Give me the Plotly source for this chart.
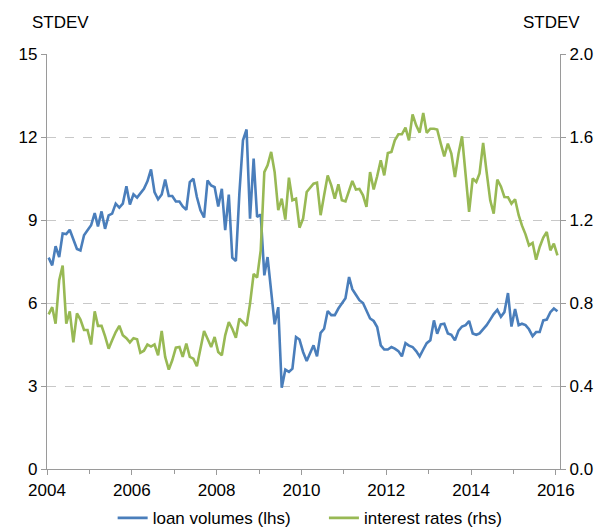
import plotly.graph_objects as go
import pandas as pd

dates = pd.date_range("2004-01-01", periods=145, freq="MS") + pd.Timedelta(days=14)

loan_volumes = [
    7.64, 7.36, 8.05, 7.66, 8.51, 8.49, 8.65, 8.27, 7.95, 7.9,
    8.45, 8.63, 8.81, 9.25, 8.77, 9.31, 8.68, 9.17, 9.23, 9.59,
    9.45, 9.59, 10.22, 9.56, 9.93, 9.81, 9.95, 10.13, 10.4, 10.83,
    10.01, 9.75, 9.92, 10.46, 9.87, 9.87, 9.67, 9.67, 9.49, 9.37,
    10.37, 10.49, 9.83, 9.35, 9.09, 10.43, 10.25, 10.19, 9.49, 10.13,
    8.63, 9.92, 7.64, 7.52, 9.95, 11.88, 12.27, 9.05, 11.22, 9.11,
    9.2, 7.0, 7.66, 6.34, 5.23, 5.85, 2.94, 3.59, 3.51, 3.63,
    4.77, 4.68, 4.23, 3.9, 4.17, 4.47, 4.07, 4.92, 5.07, 5.71,
    5.56, 5.56, 5.8, 6.0, 6.17, 6.94, 6.5, 6.3, 6.1, 6.0,
    5.75, 5.44, 5.35, 5.13, 4.47, 4.32, 4.32, 4.41, 4.35, 4.26,
    4.07, 4.55, 4.46, 4.41, 4.26, 4.07, 4.32, 4.55, 4.65, 5.37,
    4.89, 5.23, 5.25, 4.9, 4.85, 4.65, 5.0, 5.15, 5.2, 5.35,
    4.9, 4.85, 4.9, 5.05, 5.2, 5.4, 5.6, 5.75, 5.5, 5.67,
    6.36, 5.15, 5.78, 5.2, 5.25, 5.2, 5.05, 4.8, 4.95, 4.95,
    5.37, 5.4, 5.67, 5.8, 5.7,
]

interest_rates = [
    0.745, 0.78, 0.70, 0.91, 0.98, 0.70, 0.76, 0.61, 0.75, 0.72,
    0.67, 0.67, 0.60, 0.76, 0.69, 0.69, 0.64, 0.58, 0.62, 0.66,
    0.69, 0.645, 0.63, 0.61, 0.63, 0.625, 0.56, 0.57, 0.60, 0.59,
    0.60, 0.548, 0.665, 0.54, 0.479, 0.524, 0.585, 0.588, 0.54, 0.604,
    0.54, 0.532, 0.495, 0.588, 0.665, 0.628, 0.588, 0.636, 0.564, 0.548,
    0.644, 0.708, 0.676, 0.633, 0.725, 0.708, 0.69, 0.797, 0.94, 0.922,
    1.054, 1.431, 1.464, 1.528, 1.431, 1.247, 1.303, 1.202, 1.404, 1.295,
    1.303, 1.163, 1.207, 1.335, 1.356, 1.375, 1.38, 1.223, 1.319, 1.415,
    1.367, 1.303, 1.372, 1.295, 1.29, 1.343, 1.388, 1.347, 1.35, 1.319,
    1.263, 1.431, 1.347, 1.411, 1.488, 1.415, 1.523, 1.528, 1.584, 1.613,
    1.613, 1.645, 1.584, 1.709, 1.656, 1.621, 1.716, 1.62, 1.64, 1.64,
    1.636, 1.568, 1.507, 1.568, 1.52, 1.407, 1.52, 1.603, 1.424, 1.239,
    1.40, 1.383, 1.424, 1.571, 1.431, 1.295, 1.231, 1.395, 1.362, 1.311,
    1.31, 1.279, 1.30, 1.223, 1.174, 1.131, 1.078, 1.09, 1.009, 1.07,
    1.115, 1.142, 1.054, 1.086, 1.03,
]

left_ticks = [0, 3, 6, 9, 12, 15]
right_ticks = [0.0, 0.4, 0.8, 1.2, 1.6, 2.0]

FONT = "Liberation Sans, Arial, sans-serif"
AXIS_COL = "#9a9a9a"
FS = 17

# page body has an 8px margin: figure coords = screen coords - 8
OFF = 8
W, H = 597, 520
ML = 46.7 - OFF
MT = 53.7 - OFF
MR = W - (560 - OFF)
MB = H - (468.7 - OFF)
pw = W - ML - MR
ph = H - MT - MB

fig = go.Figure()
fig.add_trace(go.Scatter(x=dates, y=loan_volumes, mode="lines",
                         name="loan volumes (lhs)      ",
                         line=dict(color="#4a7ebb", width=2.6)))
fig.add_trace(go.Scatter(x=dates, y=interest_rates, mode="lines",
                         name="interest rates (rhs)",
                         yaxis="y2", line=dict(color="#98b954", width=2.6)))

fig.update_layout(
    width=W, height=H,
    margin=dict(l=ML, r=MR, t=MT, b=MB, pad=0, autoexpand=False),
    paper_bgcolor="white", plot_bgcolor="white",
    font=dict(family=FONT, size=FS, color="#000000"),
    showlegend=True,
    legend=dict(orientation="h", x=(310 - OFF - ML) / pw, xanchor="center",
                y=-(518 - 468.7) / ph, yanchor="middle",
                font=dict(size=FS), itemwidth=30, tracegroupgap=0,
                bgcolor="rgba(0,0,0,0)"),
    xaxis=dict(
        range=["2004-01-01", "2016-02-06"],
        tickformat="%Y", dtick="M24", tick0="2004-01-01",
        ticks="outside", ticklen=5, tickcolor=AXIS_COL,
        minor=dict(dtick="M12", ticks="outside", ticklen=4, tickcolor=AXIS_COL, showgrid=False),
        showline=True, linecolor=AXIS_COL, linewidth=1.3,
        showgrid=False, zeroline=False,
        tickfont=dict(size=FS),
    ),
    yaxis=dict(
        range=[0, 15], tickvals=left_ticks,
        ticks="outside", ticklen=5, tickcolor=AXIS_COL,
        showline=True, linecolor=AXIS_COL, linewidth=1.3,
        showgrid=True, gridcolor="#c8c8c8", griddash="dash", gridwidth=1,
        zeroline=False, tickfont=dict(size=FS),
    ),
    yaxis2=dict(
        range=[0, 2], tickvals=right_ticks, tickformat=".1f",
        overlaying="y", side="right",
        ticks="outside", ticklen=5, tickcolor=AXIS_COL,
        showline=True, linecolor=AXIS_COL, linewidth=1.3,
        showgrid=False, zeroline=False, tickfont=dict(size=FS),
    ),
)

def pix_ann(text, sx, sy):
    px, py = sx - OFF, sy - OFF
    return dict(text=text, x=(px - ML) / pw, y=(H - MB - py) / ph,
                xref="paper", yref="paper", showarrow=False,
                xanchor="center", yanchor="middle", font=dict(size=FS))

fig.update_layout(annotations=[pix_ann("STDEV", 60, 22), pix_ann("STDEV", 551, 22)])

fig.write_html("out.html")
